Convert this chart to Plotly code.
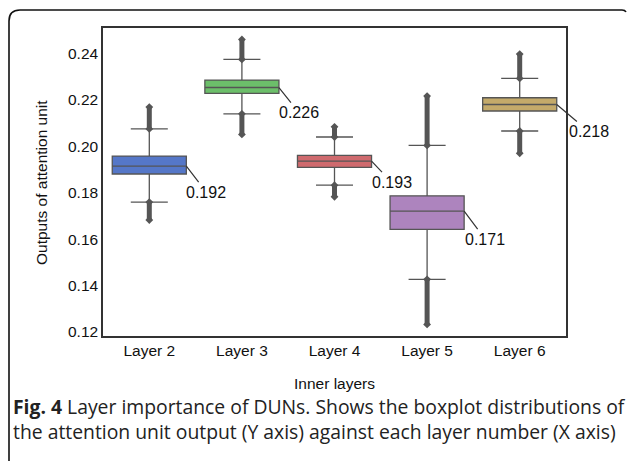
import plotly.graph_objects as go

layers = ["Layer 2", "Layer 3", "Layer 4", "Layer 5", "Layer 6"]
q1 = [0.1880, 0.2227, 0.1908, 0.1642, 0.2151]
median = [0.1914, 0.2252, 0.1935, 0.1720, 0.2179]
q3 = [0.1957, 0.2284, 0.1960, 0.1786, 0.2208]
lower_whisker = [0.1759, 0.2139, 0.1832, 0.1427, 0.2065]
upper_whisker = [0.2074, 0.2373, 0.2039, 0.2003, 0.2291]
outlier_low = [0.1682, 0.2050, 0.1782, 0.1233, 0.1969]
outlier_high = [0.2168, 0.2459, 0.2083, 0.2215, 0.2396]
labels = ["0.192", "0.226", "0.193", "0.171", "0.218"]
colors = ["#5577c8", "#6cbf6a", "#cf6a6e", "#ad84be", "#c4aa6a"]

W, H = 627, 461
L, R, T, B = 103, 566, 28, 336
EDGE = "#555555"
FONT = "Liberation Sans, Arial"

fig = go.Figure()

# outlier streaks (drawn under boxes)
for i, name in enumerate(layers):
    for lo, hi in ((upper_whisker[i], outlier_high[i]), (outlier_low[i], lower_whisker[i])):
        fig.add_trace(go.Scatter(
            x=[name, name], y=[lo, hi], mode="lines+markers",
            line=dict(color=EDGE, width=5),
            marker=dict(symbol="diamond", size=6, color=EDGE),
            hoverinfo="skip", showlegend=False))

for i, name in enumerate(layers):
    fig.add_trace(go.Box(
        x=[name], q1=[q1[i]], median=[median[i]], q3=[q3[i]],
        lowerfence=[lower_whisker[i]], upperfence=[upper_whisker[i]],
        boxpoints=False, fillcolor=colors[i],
        line=dict(color=EDGE, width=1.3), width=0.8, whiskerwidth=0.5,
        hoverinfo="skip", showlegend=False))

label_dx = [20, 20, 20, 21, 32]
label_dy = [26, 25, 21, 28, 27]
for i, name in enumerate(layers):
    fig.add_annotation(x=i + 0.4, y=median[i], xref="x", yref="y",
                       text=labels[i], showarrow=True, arrowhead=0,
                       arrowwidth=1.2, arrowcolor="#333333",
                       ax=label_dx[i], ay=label_dy[i], standoff=0,
                       font=dict(family=FONT, size=16, color="#111111"))


def px(xp):
    return (xp - L) / (R - L)


def py(yp):
    return (B - yp) / (B - T)


# axis titles
fig.add_annotation(x=px(41), y=py(182), xref="paper", yref="paper",
                   xanchor="center", yanchor="middle",
                   text="Outputs of attention unit", textangle=-90, showarrow=False,
                   font=dict(family=FONT, size=15.5, color="#111111"))
fig.add_annotation(x=px(334), y=py(383), xref="paper", yref="paper",
                   xanchor="center", yanchor="middle",
                   text="Inner layers", showarrow=False,
                   font=dict(family=FONT, size=15.5, color="#111111"))

# caption
fig.add_annotation(x=px(11), y=py(419), xref="paper", yref="paper",
                   xanchor="left", yanchor="middle", align="left",
                   text="<b>Fig. 4</b> Layer importance of DUNs. Shows the boxplot distributions of<br>"
                        "the attention unit output (Y axis) against each layer number (X axis)",
                   showarrow=False,
                   font=dict(family="Open Sans", size=19.35, color="#222222"))

# outer frame
path = (f"M {px(9)},{py(462)} L {px(9)},{py(21)} Q {px(9)},{py(10)} {px(20)},{py(10)} "
        f"L {px(622)},{py(10)} Q {px(625)},{py(10)} {px(626)},{py(12)}")
fig.add_shape(type="path", path=path, xref="paper", yref="paper",
              line=dict(color="#111111", width=1.6))

fig.update_layout(
    width=W, height=H,
    margin=dict(l=L, r=W - R, t=T, b=H - B),
    paper_bgcolor="white", plot_bgcolor="white",
    xaxis=dict(type="category", categoryorder="array", categoryarray=layers,
               range=[-0.5, 4.5], showgrid=False, zeroline=False,
               showline=True, linecolor="#333333", linewidth=1.5, mirror=True,
               ticks="", tickfont=dict(family=FONT, size=15.5, color="#111111")),
    yaxis=dict(range=[0.1183, 0.2508], tickmode="array",
               tickvals=[0.12, 0.14, 0.16, 0.18, 0.20, 0.22, 0.24],
               ticktext=["0.12", "0.14", "0.16", "0.18", "0.20", "0.22", "0.24"],
               showgrid=False, zeroline=False,
               showline=True, linecolor="#333333", linewidth=1.5, mirror=True,
               ticks="", tickfont=dict(family=FONT, size=15.5, color="#111111")),
)

fig.write_html("out.html", config={"displayModeBar": False},
               post_script="document.body.style.margin='0';document.body.style.overflow='hidden';")
